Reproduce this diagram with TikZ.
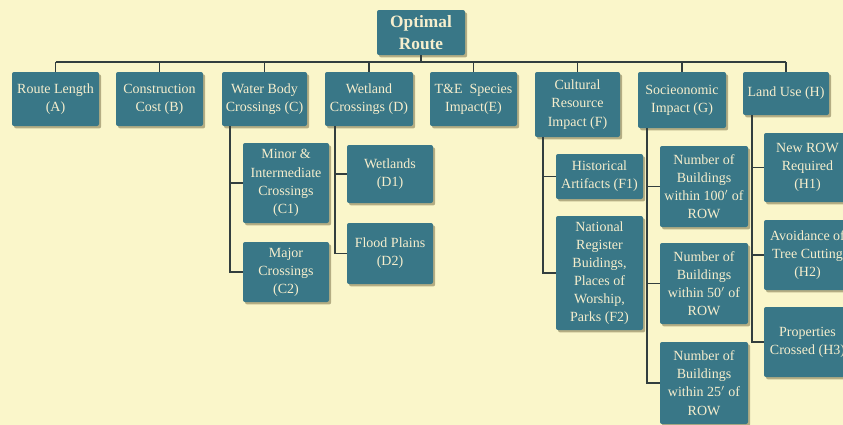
\documentclass[tikz,border=0pt]{standalone}
\usepackage{fontspec}
\setmainfont{Liberation Serif}
\usetikzlibrary{shadows}
\definecolor{bg}{RGB}{250,246,202}
\definecolor{boxfill}{RGB}{57,119,135}
\definecolor{boxtext}{RGB}{246,238,205}
\definecolor{linecol}{RGB}{50,62,62}
\definecolor{shadowcol}{RGB}{95,85,45}
\tikzset{
  box/.style={rectangle, rounded corners=1.5pt, fill=boxfill, text=boxtext,
    align=center, inner sep=1pt,
    drop shadow={shadow xshift=1.6pt, shadow yshift=-1.8pt, opacity=0.45, fill=shadowcol},
    font=\fontsize{10.5}{13.6}\selectfont},
  rootbox/.style={box, font=\fontsize{13}{17}\selectfont\bfseries},
  conn/.style={draw=linecol, line width=1pt}
}
\begin{document}
\begin{tikzpicture}[x=0.75pt, y=-0.75pt]
\useasboundingbox (0,0) rectangle (843,425);
\fill[bg] (0,0) rectangle (843,425);
\clip (0,0) rectangle (843,425);

% root
\node[rootbox, minimum width={88*0.75pt}, minimum height={45*0.75pt}] (root) at (421,32.5) {Optimal\\Route};

% level 1
\node[box, minimum width={87*0.75pt}, minimum height={54*0.75pt}] (A) at (55.5,99) {Route Length\\(A)};
\node[box, minimum width={87*0.75pt}, minimum height={54*0.75pt}] (B) at (159.5,99) {Construction\\Cost (B)};
\node[box, minimum width={85*0.75pt}, minimum height={54*0.75pt}] (C) at (264.5,99) {Water Body\\Crossings (C)};
\node[box, minimum width={88*0.75pt}, minimum height={54*0.75pt}] (D) at (369,99) {Wetland\\Crossings (D)};
\node[box, minimum width={87*0.75pt}, minimum height={54*0.75pt}] (E) at (473.5,99) {T\&E\ \ Species\\Impact(E)};
\node[box, minimum width={85*0.75pt}, minimum height={65*0.75pt}] (F) at (577.5,104.5) {Cultural\\Resource\\Impact (F)};
\node[box, minimum width={88*0.75pt}, minimum height={56*0.75pt}] (G) at (682,100) {Socieonomic\\Impact (G)};
\node[box, minimum width={86*0.75pt}, minimum height={43*0.75pt}] (H) at (786,93.5) {Land Use (H)};

% level 2
\node[box, minimum width={86*0.75pt}, minimum height={80*0.75pt}] (C1) at (286,183) {Minor \&\\Intermediate\\Crossings\\(C1)};
\node[box, minimum width={86*0.75pt}, minimum height={60*0.75pt}] (C2) at (286,272) {Major\\Crossings\\(C2)};
\node[box, minimum width={86*0.75pt}, minimum height={58*0.75pt}] (D1) at (390,174) {Wetlands\\(D1)};
\node[box, minimum width={86*0.75pt}, minimum height={61*0.75pt}] (D2) at (390,253.5) {Flood Plains\\(D2)};
\node[box, minimum width={87*0.75pt}, minimum height={45*0.75pt}] (F1) at (599.5,176.5) {Historical\\Artifacts (F1)};
\node[box, minimum width={87*0.75pt}, minimum height={114*0.75pt}] (F2) at (599.5,273) {National\\Register\\Buidings,\\Places of\\Worship,\\Parks (F2)};
\node[box, minimum width={88*0.75pt}, minimum height={81*0.75pt}] (G1) at (704,186.5) {Number of\\Buildings\\within 100$'$ of\\ROW};
\node[box, minimum width={88*0.75pt}, minimum height={81*0.75pt}] (G2) at (704,283.5) {Number of\\Buildings\\within 50$'$ of\\ROW};
\node[box, minimum width={88*0.75pt}, minimum height={82*0.75pt}] (G3) at (704,383) {Number of\\Buildings\\within 25$'$ of\\ROW};
\node[box, minimum width={87*0.75pt}, minimum height={69*0.75pt}] (H1) at (807.5,167.5) {New ROW\\Required\\(H1)};
\node[box, minimum width={87*0.75pt}, minimum height={70*0.75pt}] (H2) at (807.5,255) {Avoidance of\\Tree Cutting\\(H2)};
\node[box, minimum width={87*0.75pt}, minimum height={70*0.75pt}] (H3) at (807.5,342) {Properties\\Crossed (H3)};

% top bus
\coordinate (bus) at (0,62);
\draw[conn] (root.south) -- (root.south |- bus);
\draw[conn] (A.north |- bus) -- (H.north |- bus);
\foreach \n in {A,B,C,D,E,F,G,H} \draw[conn] (\n.north |- bus) -- (\n.north);

% child buses
\coordinate (cb) at (230,0);
\coordinate (db) at (335,0);
\coordinate (fb) at (543,0);
\coordinate (gb) at (647,0);
\coordinate (hb) at (752,0);
\draw[conn] (C.south -| cb) |- (C2.west);
\draw[conn] (cb |- C1.west) -- (C1.west);
\draw[conn] (D.south -| db) |- (D2.west);
\draw[conn] (db |- D1.west) -- (D1.west);
\draw[conn] (F.south -| fb) |- (F2.west);
\draw[conn] (fb |- F1.west) -- (F1.west);
\draw[conn] (G.south -| gb) |- (G3.west);
\draw[conn] (gb |- G1.west) -- (G1.west);
\draw[conn] (gb |- G2.west) -- (G2.west);
\draw[conn] (H.south -| hb) |- (H3.west);
\draw[conn] (hb |- H1.west) -- (H1.west);
\draw[conn] (hb |- H2.west) -- (H2.west);
\end{tikzpicture}
\end{document}
